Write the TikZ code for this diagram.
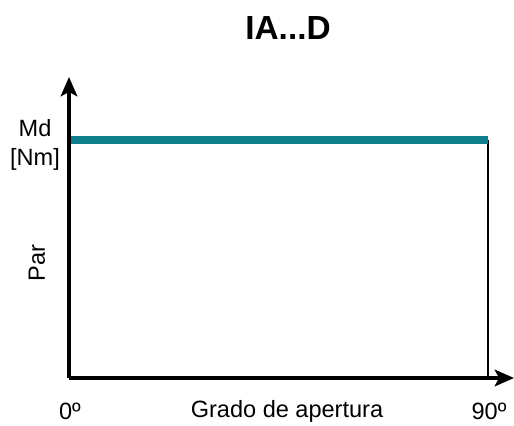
\documentclass[tikz,border=0pt]{standalone}
\usepackage{fontspec}
\setmainfont{Liberation Sans}
\usetikzlibrary{arrows.meta}
\definecolor{parteal}{RGB}{14,128,140}
\begin{document}
\begin{tikzpicture}[x=0.02cm, y=-0.02cm,
    axis/.style={line width=2pt, -{Stealth[length=11pt, width=9.5pt, inset=2.5pt]}},
    lbl/.style={font=\fontsize{13.4}{16.5}\selectfont, align=center, inner sep=0pt}]
  \useasboundingbox (0,0) rectangle (514,426);
  \node[font=\fontsize{19}{22}\selectfont\bfseries, inner sep=0pt] (title) at (288,28) {IA...D};
  \coordinate (o) at (69,378);
  \coordinate (ytop) at (69,77);
  \coordinate (xend) at (514,378);
  \coordinate (m0) at (71,140);
  \coordinate (m1) at (488,140);
  \coordinate (m2) at (488,378);
  \draw[axis] (o) -- (ytop);
  \draw[axis] (o) -- (xend);
  \draw[line width=0.8pt] (m1) -- (m2);
  \draw[parteal, line width=4.3pt] (m0) -- (m1);
  \node[lbl] (md) at (35,145) {Md\\{}[Nm]};
  \node[lbl, rotate=90] (par) at (37,263) {Par};
  \node[lbl] (zero) at (70,411) {0º};
  \node[lbl] (grado) at (287,411) {Grado de apertura};
  \node[lbl] (ninety) at (489,411) {90º};
\end{tikzpicture}
\end{document}
